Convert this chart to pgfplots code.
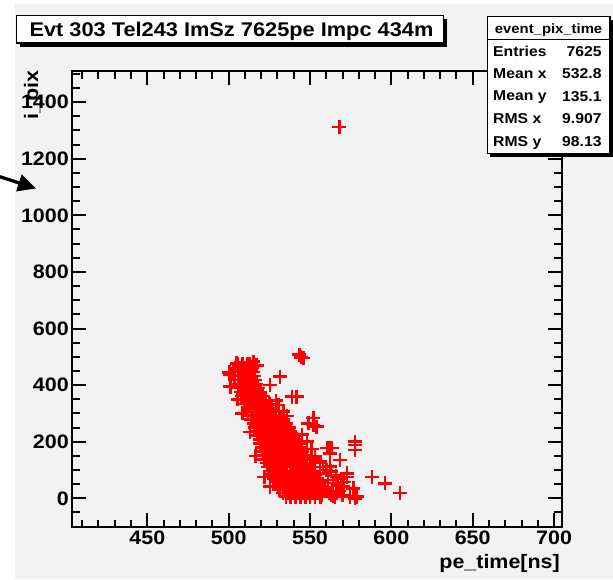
\documentclass[border=0pt]{standalone}
\usepackage{pgfplots}
\pgfplotsset{compat=1.18}
\usepackage{fontspec}
\setmainfont{Liberation Sans}[FakeStretch=1.1]
\usetikzlibrary{arrows.meta}
\definecolor{bg}{HTML}{F2F2F2}
\begin{document}
\begin{tikzpicture}[x=1pt,y=1pt]
\path[use as bounding box, fill=white] (0,0) rectangle (613,-579);
\fill[bg] (15,-4) rectangle (613,-579);
\begin{axis}[
  at={(72.3pt,-527pt)}, anchor=south west,
  scale only axis, width=489.4pt, height=456pt,
  xmin=403.9, xmax=704.7, ymin=-101.4, ymax=1510,
  xtick={450,500,...,700}, ytick={0,200,...,1400},
  minor xtick={410,420,...,700},
  minor ytick={-50,0,...,1500},
  tick align=inside,
  major tick length=14pt, minor tick length=7.5pt,
  tick style={black, line width=2pt},
  axis line style={line width=2pt},
  axis background/.style={fill=bg},
  tick label style={font=\fontsize{19.5}{20}\selectfont\bfseries},
  /pgf/number format/assume math mode=true,
  /pgf/number format/1000 sep={},
  scaled ticks=false,
]
\addplot[only marks, mark=+, mark size=7pt, red, line width=2.5pt] coordinates {
(535.2,6)(538.1,6)(541.0,6)(544.2,6)(547.1,6)(550.0,6)(553.2,6)(556.4,6)
(533.4,18)(536.6,18)(539.5,18)(542.4,18)(545.6,18)(548.5,18)(551.4,18)(554.6,18)(557.5,18)
(531.1,31)(534.0,31)(537.2,31)(540.1,31)(543.0,31)(546.2,31)(549.1,31)(552.0,31)(555.2,31)(558.0,31)
(530.5,44)(533.4,44)(536.6,44)(539.5,44)(542.4,44)(545.6,44)(548.5,44)(551.4,44)(554.3,44)(557.0,44)
(529.0,57)(532.2,57)(535.1,57)(538.0,57)(541.2,57)(544.1,57)(547.0,57)(550.2,57)(553.1,57)(556.0,57)
(527.6,70)(530.5,70)(533.7,70)(536.6,70)(539.5,70)(542.7,70)(545.6,70)(548.5,70)(551.7,70)(554.6,70)
(526.0,84)(529.2,84)(532.1,84)(535.0,84)(538.2,84)(541.1,84)(544.0,84)(547.2,84)(550.1,84)(553.0,84)
(525.4,97)(528.6,97)(531.5,97)(534.4,97)(537.6,97)(540.5,97)(543.4,97)(546.6,97)(549.5,97)(552.0,97)
(524.1,111)(527.0,111)(530.2,111)(533.1,111)(536.0,111)(539.2,111)(542.1,111)(545.0,111)(548.2,111)(551.0,111)
(523.6,124)(526.5,124)(529.4,124)(532.6,124)(535.5,124)(538.4,124)(541.6,124)(544.5,124)(547.4,124)(550.0,124)
(522.0,138)(525.2,138)(528.1,138)(531.0,138)(534.2,138)(537.1,138)(540.0,138)(543.2,138)(546.1,138)(548.2,138)
(521.9,152)(524.8,152)(527.7,152)(530.9,152)(533.8,152)(536.7,152)(539.9,152)(542.8,152)(545.7,152)(547.1,152)
(521.0,166)(524.2,166)(527.1,166)(530.0,166)(533.2,166)(536.1,166)(539.0,166)(542.2,166)(545.1,166)
(520.6,180)(523.5,180)(526.7,180)(529.6,180)(532.5,180)(535.7,180)(538.6,180)(541.5,180)(544.5,180)
(519.5,194)(522.7,194)(525.6,194)(528.5,194)(531.7,194)(534.6,194)(537.5,194)(540.7,194)(543.0,194)
(519.4,208)(522.3,208)(525.2,208)(528.4,208)(531.3,208)(534.2,208)(537.4,208)(540.3,208)(541.6,208)
(518.0,222)(521.2,222)(524.1,222)(527.0,222)(530.2,222)(533.1,222)(536.0,222)(539.2,222)(540.0,222)
(517.6,236)(520.5,236)(523.7,236)(526.6,236)(529.5,236)(532.7,236)(535.6,236)(538.0,236)
(516.0,250)(519.2,250)(522.1,250)(525.0,250)(528.2,250)(531.1,250)(534.0,250)(537.0,250)
(515.6,264)(518.5,264)(521.7,264)(524.6,264)(527.5,264)(530.7,264)(533.6,264)(535.0,264)
(514.0,278)(517.2,278)(520.1,278)(523.0,278)(526.2,278)(529.1,278)(532.0,278)(533.2,278)
(513.6,292)(516.5,292)(519.4,292)(522.6,292)(525.5,292)(528.4,292)(531.0,292)
(512.0,306)(515.2,306)(518.1,306)(521.0,306)(524.2,306)(527.1,306)(529.0,306)
(511.6,320)(514.5,320)(517.7,320)(520.6,320)(523.5,320)(526.7,320)
(510.0,334)(513.2,334)(516.1,334)(519.0,334)(522.2,334)(525.0,334)
(509.6,348)(512.5,348)(515.4,348)(518.6,348)(521.5,348)(523.0,348)
(508.0,362)(511.2,362)(514.1,362)(517.0,362)(520.2,362)(521.2,362)
(507.6,376)(510.5,376)(513.7,376)(516.6,376)(519.5,376)
(506.0,390)(509.2,390)(512.1,390)(515.0,390)(518.0,390)
(505.6,404)(508.5,404)(511.4,404)(514.6,404)(517.0,404)
(504.0,418)(507.2,418)(510.1,418)(513.0,418)(516.2,418)
(503.6,432)(506.5,432)(509.7,432)(512.6,432)(515.8,432)
(503.0,446)(506.2,446)(509.1,446)(512.0,446)(515.0,446)
(504.0,460)(507.0,460)(510.2,460)(513.1,460)(514.6,460)
(505.5,474)(508.6,474)(511.5,474)(513.2,474)
(504.9,477)(515.2,483)(517.2,470)(501,436)(500.5,445)
(568,1313)
(543.5,508)(546,496)(544.5,498)
(531.6,430)(538.8,359)(541.8,359)(525.4,400)
(552,283)(554.1,253)(549,265)(552,259)
(560.3,177)(563.3,177)(562.3,159)(561.3,177)
(577.7,200)(577.7,171)(577.7,188)(568.4,135)
(588,76)(596.1,53)(605.3,18)(578.7,6)(577.7,0)
(572.6,76)(572.6,88)(570.5,41)(576.6,35)(566.4,18)(574.6,6)(565.4,6)
(556.1,88)(562.3,112)
(556,60)(559,40)(561,25)(563,10)(556,130)(553,150)(551,175)(548,200)(545,225)
(553,140)(556,125)(558,110)(560,100)(563,95)(566,80)(569,70)(561,65)
(564,55)(567,45)(571,58)(559,30)(562,20)(568,25)(570,12)(564,8)(557,10)
(525.5,41)(522,75)(516.5,150)(513,235)(508.5,300)(505.5,350)(501,395)
(530.5,330)(533.6,306)(536,290)(529,345)
};
\end{axis}
% axis titles
\node[rotate=90, anchor=base east, inner sep=0pt, font=\fontsize{19.5}{20}\selectfont\bfseries] at (38,-70) {i\_pix};
\node[anchor=base east, inner sep=0pt, font=\fontsize{19.5}{20}\selectfont\bfseries] at (560,-568.3) {pe\_time[ns]};
% arrow
\draw[line width=3.3pt, -{Triangle[length=18pt, width=17pt]}] (0,-176.7) -- (36,-188.5);
% title box
\fill[black] (20,-19) rectangle (447,-46.5);
\filldraw[fill=white, draw=black, line width=1.2pt] (16.7,-15.7) rectangle (443.5,-43);
\node[anchor=base west, inner sep=0pt, font=\fontsize{19.8}{20}\selectfont\bfseries] at (29.3,-36) {Evt 303 Tel243 ImSz 7625pe Impc 434m};
% stats box
\fill[black] (490.3,-19.7) rectangle (613,-156.5);
\filldraw[fill=white, draw=black, line width=1.2pt] (487.3,-16.7) rectangle (610,-153.3);
\draw[line width=1.2pt] (487.3,-39.3) -- (610,-39.3);
\node[anchor=base, inner sep=0pt, font=\fontsize{13.5}{14}\selectfont\bfseries] at (548.6,-33.3) {event\_pix\_time};
\begin{scope}[every node/.style={inner sep=0pt, font=\fontsize{14.3}{15}\selectfont\bfseries}]
\node[anchor=base west] at (493,-56.7) {Entries};
\node[anchor=base east] at (601.7,-56.7) {7625};
\node[anchor=base west] at (493,-78.3) {Mean x};
\node[anchor=base east] at (601.7,-78.3) {532.8};
\node[anchor=base west] at (493,-100) {Mean y};
\node[anchor=base east] at (601.7,-101) {135.1};
\node[anchor=base west] at (493,-123.3) {RMS x};
\node[anchor=base east] at (601.7,-123.3) {9.907};
\node[anchor=base west] at (493,-146.7) {RMS y};
\node[anchor=base east] at (601.7,-146.7) {98.13};
\end{scope}
\end{tikzpicture}
\end{document}
